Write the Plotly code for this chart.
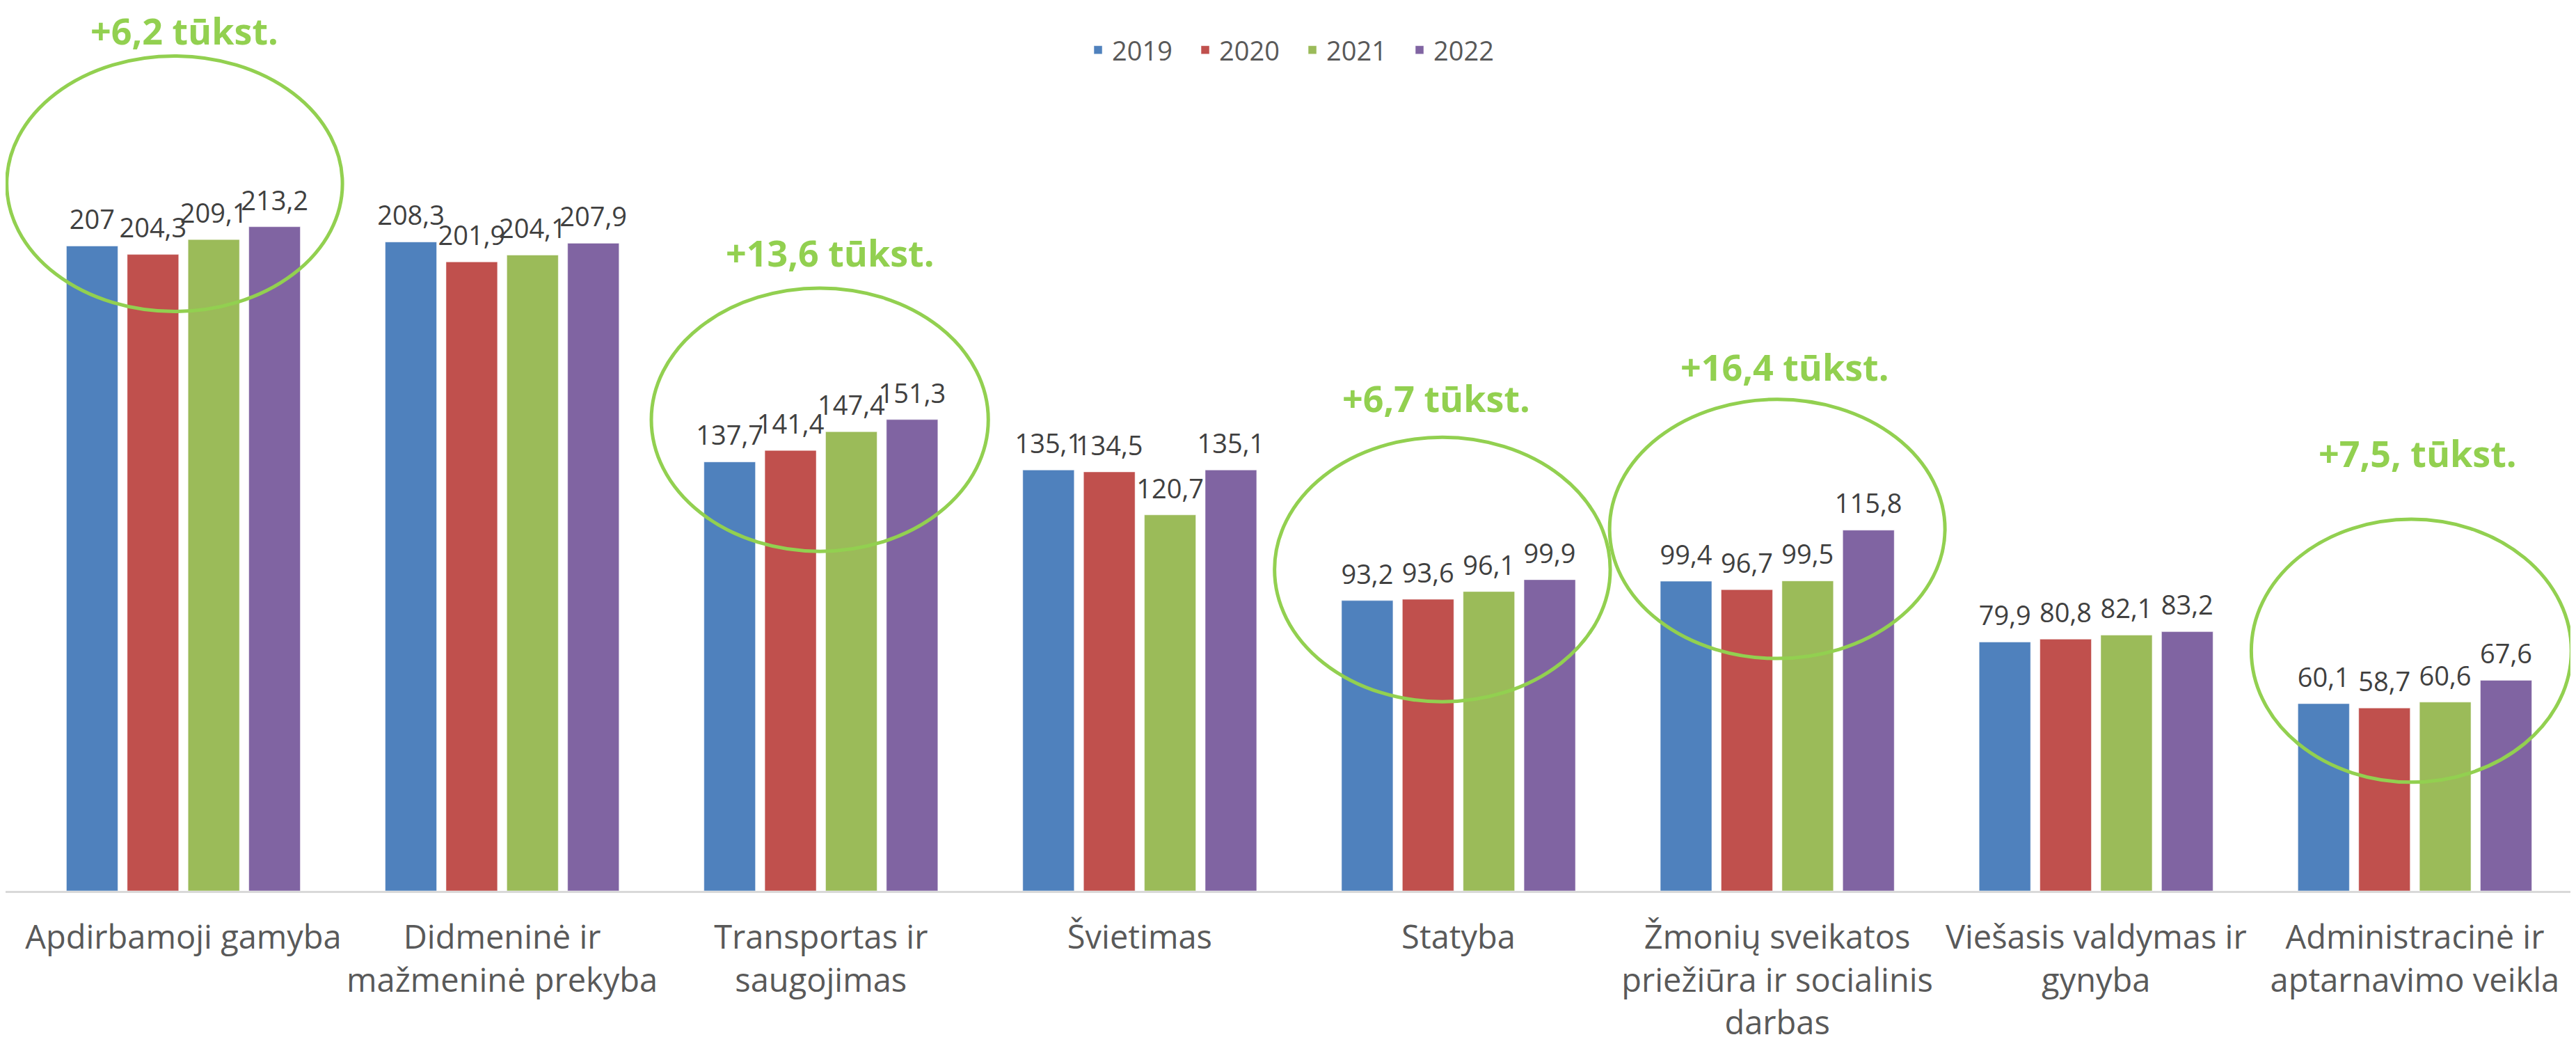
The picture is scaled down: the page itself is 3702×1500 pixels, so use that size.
import plotly.graph_objects as go

# Užimtųjų skaičius pagal veiklos sritis, tūkst.
categories = [
    "Apdirbamoji gamyba",
    "Didmeninė ir<br>mažmeninė prekyba",
    "Transportas ir<br>saugojimas",
    "Švietimas",
    "Statyba",
    "Žmonių sveikatos<br>priežiūra ir socialinis<br>darbas",
    "Viešasis valdymas ir<br>gynyba",
    "Administracinė ir<br>aptarnavimo veikla",
]
years = ["2019", "2020", "2021", "2022"]
v2019 = [207, 208.3, 137.7, 135.1, 93.2, 99.4, 79.9, 60.1]
v2020 = [204.3, 201.9, 141.4, 134.5, 93.6, 96.7, 80.8, 58.7]
v2021 = [209.1, 204.1, 147.4, 120.7, 96.1, 99.5, 82.1, 60.6]
v2022 = [213.2, 207.9, 151.3, 135.1, 99.9, 115.8, 83.2, 67.6]

# pažymėtos grupės ir prieaugio užrašai
growth_groups = [0, 2, 4, 5, 7]
growth_labels = ["+6,2 tūkst.", "+13,6 tūkst.", "+6,7 tūkst.", "+16,4 tūkst.", "+7,5, tūkst."]

colors = ["#4F81BD", "#C0504D", "#9BBB59", "#8064A2"]
green = "#92D050"
font = "Open Sans"
gap = 0.237

# elipsių ribos (x poslinkis nuo grupės centro, y reikšmių vienetais)
ellipses = [
    (-0.554, 0.499, 186, 268),
    (-0.532, 0.525, 109, 193.5),
    (-0.577, 0.476, 60.7, 145.6),
    (-0.526, 0.526, 74.6, 157.8),
    (-0.513, 0.491, 34.9, 119.3),
]
label_pos = [(0.003, 276.3), (0.029, 204.9), (-0.07, 158.4), (0.024, 168.3), (0.009, 140.6)]

fig = go.Figure()
for name, vals, col in zip(years, [v2019, v2020, v2021, v2022], colors):
    fig.add_trace(go.Bar(name=name, x=categories, y=vals, marker_color=col, hoverinfo="skip"))

# reikšmių užrašai virš stulpelių (nematomi taškai tik atitraukia tekstą)
for name, vals in zip(years, [v2019, v2020, v2021, v2022]):
    fig.add_trace(go.Scatter(
        x=categories, y=vals, mode="markers+text", showlegend=False, hoverinfo="skip",
        text=[f"{v:g}".replace(".", ",") for v in vals],
        textposition="top center", cliponaxis=False,
        marker=dict(size=22, color="rgba(0,0,0,0)"),
        textfont=dict(family=font, size=38, color="#404040"),
    ))

for g, lab, (dx0, dx1, y0, y1), (lx, ly) in zip(growth_groups, growth_labels, ellipses, label_pos):
    fig.add_shape(type="circle", xref="x", yref="y",
                  x0=g + dx0, x1=g + dx1, y0=y0, y1=y1,
                  line=dict(color=green, width=5), layer="above")
    fig.add_annotation(x=g + lx, y=ly, xref="x", yref="y", text="<b>" + lab + "</b>",
                       showarrow=False, font=dict(family=font, size=52, color=green))

fig.update_layout(
    width=3702, height=1500,
    template="plotly_white",
    barmode="group", bargap=gap, bargroupgap=0.154,
    scattermode="group", scattergap=gap,
    margin=dict(l=0, r=0, t=0, b=228),
    plot_bgcolor="white", paper_bgcolor="white",
    font=dict(family=font, color="#595959"),
    legend=dict(orientation="h", x=0.5019, xanchor="center", y=0.9497, yanchor="middle",
                font=dict(size=38, color="#595959"), entrywidth=109, traceorder="normal"),
    showlegend=True,
)
fig.update_xaxes(range=[-0.5577, 7.523], showline=True, linecolor="#D9D9D9", linewidth=3,
                 showgrid=False, ticks="", ticklabelstandoff=24,
                 tickfont=dict(size=47, color="#595959"))
fig.update_yaxes(range=[0, 284.2], visible=False, showgrid=False, zeroline=False)

fig.write_html("out.html")
